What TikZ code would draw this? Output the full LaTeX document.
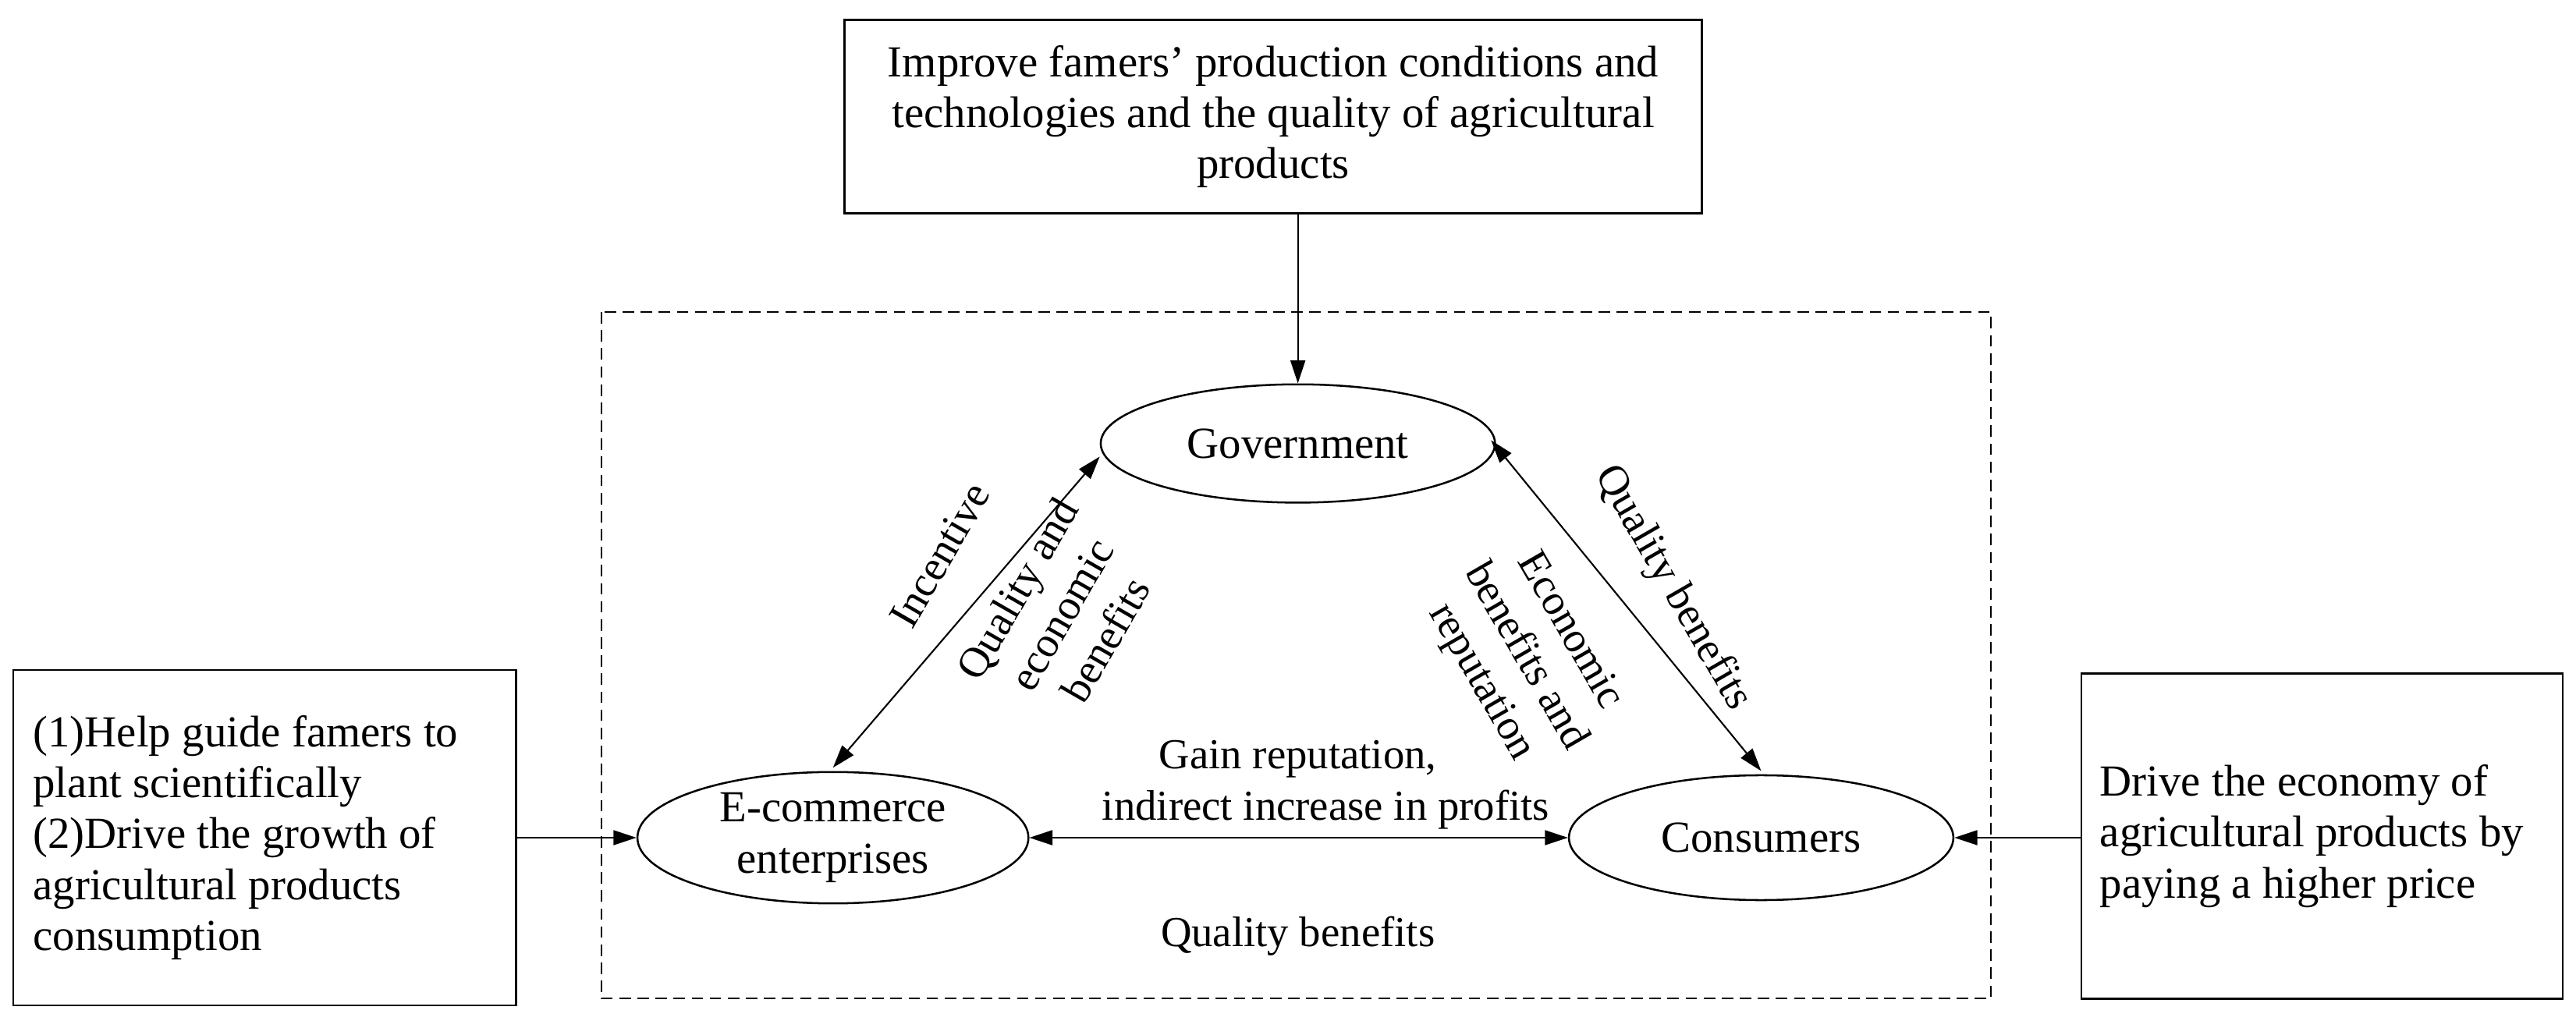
\documentclass[tikz,border=0pt]{standalone}
\usepackage{fontspec}
\setmainfont{Liberation Serif}
\usetikzlibrary{shapes.geometric,arrows.meta}
\begin{document}
\begin{tikzpicture}[x=1pt,y=-1pt,
  every node/.style={font=\fontsize{27}{31}\selectfont},
  box/.style={draw,line width=1.2pt,align=center,inner sep=0pt},
  ell/.style={draw,ellipse,line width=1.2pt,inner sep=0pt,align=center},
  arr/.style={line width=1pt,-{Triangle[length=14pt,width=9pt]}},
  darr/.style={line width=1pt,{Triangle[length=14pt,width=9pt]}-{Triangle[length=14pt,width=9pt]}},
  lab/.style={align=center,inner sep=0pt,font=\fontsize{26}{31}\selectfont}]
\useasboundingbox (0,0) rectangle (1568,625.4);
\draw[dash pattern=on 7pt off 4pt,line width=1pt] (366,190) rectangle (1212,608);
\node[box,minimum width=522pt,minimum height=118pt] (top) at (775,71) {Improve famers’ production conditions and\\technologies and the quality of agricultural\\products};
\node[box,minimum width=306pt,minimum height=204pt] (left) at (161,510) {};
\node[anchor=west,align=left,inner sep=0pt] (lt) at (20,510) {(1)Help guide famers to\\plant scientifically\\(2)Drive the growth of\\agricultural products\\consumption};
\node[box,minimum width=293pt,minimum height=198pt] (right) at (1413.5,509) {};
\node[anchor=west,align=left,inner sep=0pt] (rt) at (1278,509) {Drive the economy of\\agricultural products by\\paying a higher price};
\node[ell,minimum width=240pt,minimum height=72pt] (gov) at (790,270) {Government};
\node[ell,minimum width=238pt,minimum height=80pt] (ec) at (507,510) {E-commerce\\enterprises};
\node[ell,minimum width=234pt,minimum height=76pt] (con) at (1072,510) {Consumers};
\draw[arr] (gov.north |- top.south) -- (gov.north);
\draw[arr] (left.east |- ec) -- (ec.west);
\draw[arr] (right.west |- con) -- (con.east);
\draw[darr] (ec.east) -- (con.west);
\path (gov.west) ++(0,8) coordinate (g1) (ec.north) ++(0,-2) coordinate (e1);
\draw[darr] (g1) -- (e1);
\path (gov.east) ++(-3,-2) coordinate (g2) (con.north) ++(0,-2) coordinate (c1);
\draw[darr] (g2) -- (c1);
\node[lab] (t1) at (790,462) {Gain reputation,};
\node[lab] (t2) at (807,493) {indirect increase in profits};
\node[lab] (t3) at (790,570) {Quality benefits};
\node[lab,rotate=60] (t4) at (572,338) {Incentive};
\node[lab,rotate=60] (t5) at (646,374) {Quality and\\economic\\benefits};
\node[lab,rotate=-60] (t6) at (1018,358) {Quality benefits};
\node[lab,rotate=-60] (t7) at (928,400) {Economic\\benefits and\\reputation};
\end{tikzpicture}
\end{document}
